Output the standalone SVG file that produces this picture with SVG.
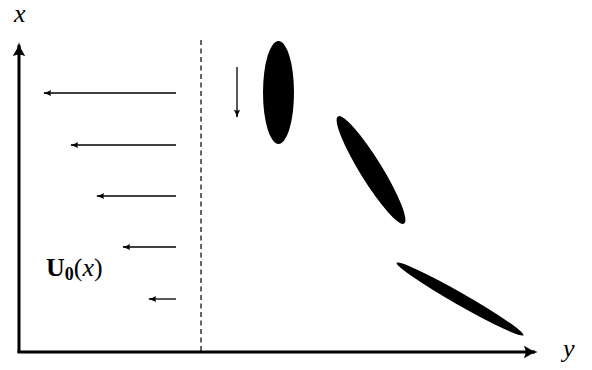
<svg xmlns="http://www.w3.org/2000/svg" width="592" height="370" viewBox="0 0 592 370">
<defs>
<marker id="ah" viewBox="0 0 10 10" refX="9" refY="5" markerWidth="8" markerHeight="8" markerUnits="userSpaceOnUse" orient="auto">
<path d="M0,1 Q5,4 10,5 Q5,6 0,9 Q2,5 0,1 Z" fill="#000"/>
</marker>
<marker id="axh" viewBox="0 0 10 10" refX="8" refY="5" markerWidth="14" markerHeight="14" markerUnits="userSpaceOnUse" orient="auto">
<path d="M0,0.5 Q5,4 10,5 Q5,6 0,9.5 Q2.5,5 0,0.5 Z" fill="#000"/>
</marker>
<style>
.arr{stroke:#000;stroke-width:1.3;fill:none;marker-end:url(#ah)}
.ax{stroke:#000;stroke-width:3;fill:none;marker-end:url(#axh)}
.lbl{font-family:"Liberation Serif","DejaVu Serif",serif;font-size:26px;fill:#000}
</style>
</defs>
<g id="axes">
<line class="ax" x1="19" y1="353" x2="19" y2="45"/>
<line class="ax" x1="17.5" y1="352" x2="535" y2="352"/>
</g>
<g id="dashed">
<line x1="201" y1="40" x2="201" y2="352" stroke="#000" stroke-width="1.2" stroke-dasharray="5,3.5"/>
</g>
<g id="connectors">
<line class="arr" x1="176" y1="93" x2="44" y2="93"/>
<line class="arr" x1="176" y1="145" x2="71" y2="145"/>
<line class="arr" x1="176" y1="196" x2="97" y2="196"/>
<line class="arr" x1="176" y1="247" x2="123" y2="247"/>
<line class="arr" x1="176" y1="299" x2="149" y2="299"/>
<line class="arr" x1="237" y1="67" x2="237" y2="117"/>
</g>
<g id="ellipse1"><ellipse cx="278.5" cy="92.5" rx="15.5" ry="51.5" fill="#000"/></g>
<g id="ellipse2"><ellipse cx="0" cy="0" rx="63" ry="11" fill="#000" transform="translate(371,170) rotate(58.3)"/></g>
<g id="ellipse3"><ellipse cx="0" cy="0" rx="73" ry="6" fill="#000" transform="translate(460,299) rotate(29.7)"/></g>
<g id="labels">
<text class="lbl" x="14" y="22" font-size="24" font-style="italic">x</text>
<text class="lbl" x="563" y="357" font-style="italic">y</text>
<text class="lbl" x="46" y="276"><tspan font-weight="bold">U</tspan><tspan font-weight="bold" font-size="18" dy="4">0</tspan><tspan dy="-4">(</tspan><tspan font-style="italic">x</tspan>)</text>
</g>
</svg>
